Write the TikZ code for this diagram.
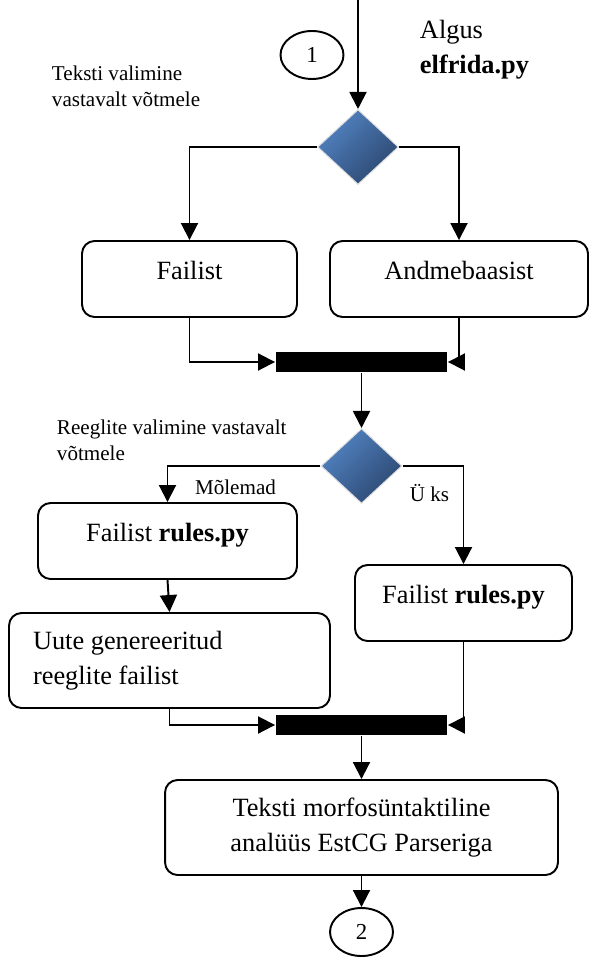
\documentclass[tikz,border=0pt]{standalone}
\usepackage{fontspec}
\setmainfont{Liberation Serif}
\usetikzlibrary{shapes.geometric,arrows.meta}

\definecolor{dlight}{HTML}{5283C2}
\definecolor{ddark}{HTML}{2C4770}

\begin{document}
\begin{tikzpicture}[x=0.02cm,y=-0.02cm,>={Triangle[length=0.34cm,width=0.34cm]},line width=1.1pt,
        choice/.style={diamond,minimum width=1.62cm,minimum height=1.5cm,inner sep=0pt,top color=dlight,bottom color=ddark,shading angle=45,draw=white!88!black,line width=0.6pt},
        act/.style={draw,rounded corners=0.25cm,minimum height=1.52cm,font=\fontsize{15}{20}\selectfont,text height=0.4cm,text depth=0.4cm},
        actlong/.style={draw,rounded corners=0.25cm,minimum height=1.9cm,font=\fontsize{15}{20}\selectfont},
        bar/.style={fill=black,minimum width=3.42cm,minimum height=0.4cm,inner sep=0pt},
        conn/.style={draw,ellipse,minimum width=1.26cm,minimum height=0.96cm,inner sep=0pt,font=\fontsize{13}{14}\selectfont},
        note/.style={font=\fontsize{12}{14.7}\selectfont,align=left,anchor=west,inner sep=0pt}]
        \useasboundingbox (0,0) rectangle (590,959);

        \coordinate (start) at (358,0);
        \node[conn] (C1) at (312,55) {1};
        \node[anchor=west,align=left,inner sep=0pt,font=\fontsize{15}{19.8}\selectfont] (Algus) at (419,50) {Algus\\\textbf{elfrida.py}};
        \node[note] (N1) at (51,86) {Teksti valimine\\vastavalt võtmele};

        \node[choice] (D1) at (358,147) {};
        \node[act,minimum width=4.3cm] (Fail) at (189.5,279) {Failist};
        \node[act,minimum width=5.16cm] (Andm) at (459,279) {Andmebaasist};
        \node[bar] (B1) at (361.5,362) {};

        \node[note] (N2) at (56,440) {Reeglite valimine vastavalt\\võtmele};
        \node[choice] (D2) at (361.5,466) {};
        \node[font=\fontsize{12}{14}\selectfont] (Mol) at (235.5,487) {Mõlemad};
        \node[font=\fontsize{12}{14}\selectfont] (Yks) at (429.5,493) {Ü ks};

        \node[act,minimum width=5.18cm] (RulesL) at (167.5,541) {Failist \textbf{rules.py}};
        \node[act,minimum width=4.34cm] (RulesR) at (463.5,603) {Failist \textbf{rules.py}};
        \node[actlong,align=flush left,text width=5.46cm,inner xsep=0.48cm] (Uute) at (169.5,660.5) {Uute genereeritud\\reeglite failist};
        \node[bar] (B2) at (361.5,725) {};

        \node[actlong,align=center,minimum width=7.86cm] (Anal) at (361.5,827.5) {Teksti morfosüntaktiline\\analüüs EstCG Parseriga};
        \node[conn] (C2) at (361.5,932) {2};

        \draw[->] (start) -- (D1.north);
        \draw[->] (D1.west) -| (Fail.north);
        \draw[->] (D1.east) -| (Andm.north);
        \draw[->] (Fail.south) |- (B1.west);
        \draw[->] (Andm.south) |- (B1.east);
        \draw[->] (B1.south) -- (D2.north);

        \draw[->] (D2.west) -| (RulesL.north);
        \draw[->] (D2.east) -| (RulesR.north);
        \draw[->] (RulesL.south) -- (Uute.north);
        \draw[->] (Uute.south) |- (B2.west);
        \draw[->] (RulesR.south) |- (B2.east);
        \draw[->] (B2.south) -- (Anal.north);
        \draw[->] (Anal.south) -- (C2.north);
    \end{tikzpicture}
\end{document}
